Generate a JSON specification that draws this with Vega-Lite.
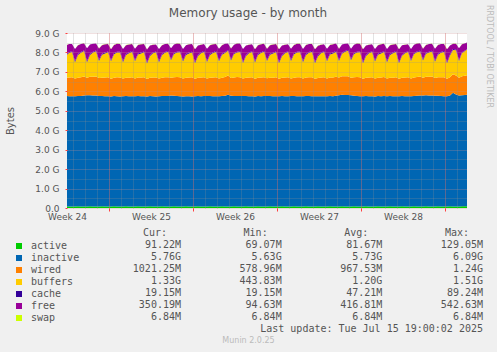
{
  "$schema": "https://vega.github.io/schema/vega-lite/v6.json",
  "width": 400,
  "height": 175,
  "autosize": {"type": "none"},
  "padding": {"left": 67, "top": 33, "right": 30, "bottom": 144},
  "background": "#F0F0F0",
  "title": {"text": "Memory usage - by month", "anchor": "middle", "frame": "group", "dx": -19, "offset": -16, "font": "DejaVu Sans", "fontSize": 12, "fontWeight": "normal", "color": "#555555"},
  "config": {"view": {"fill": "#FFFFFF", "stroke": null}, "font": "DejaVu Sans"},
  "datasets": {
    "mem": [
      {"t":"2025-06-12T12:00","active":0.085,"inactive":5.67,"wired":0.95,"buffers":1.18,"cache":0.05,"free":0.45,"swap":0.0064},
      {"t":"2025-06-12T16:00","active":0.082,"inactive":5.67,"wired":0.96,"buffers":1.26,"cache":0.04,"free":0.42,"swap":0.0064},
      {"t":"2025-06-12T22:00","active":0.078,"inactive":5.67,"wired":0.97,"buffers":1.30,"cache":0.04,"free":0.37,"swap":0.0064},
      {"t":"2025-06-13T04:00","active":0.075,"inactive":5.67,"wired":0.91,"buffers":0.84,"cache":0.06,"free":0.62,"swap":0.0064},
      {"t":"2025-06-13T10:00","active":0.085,"inactive":5.67,"wired":0.95,"buffers":1.16,"cache":0.05,"free":0.46,"swap":0.0064},
      {"t":"2025-06-13T16:00","active":0.082,"inactive":5.68,"wired":0.96,"buffers":1.26,"cache":0.04,"free":0.41,"swap":0.0064},
      {"t":"2025-06-13T22:00","active":0.078,"inactive":5.71,"wired":0.97,"buffers":1.31,"cache":0.04,"free":0.37,"swap":0.0064},
      {"t":"2025-06-14T04:00","active":0.075,"inactive":5.72,"wired":0.90,"buffers":0.80,"cache":0.06,"free":0.66,"swap":0.0064},
      {"t":"2025-06-14T10:00","active":0.085,"inactive":5.72,"wired":0.94,"buffers":1.12,"cache":0.05,"free":0.49,"swap":0.0064},
      {"t":"2025-06-14T16:00","active":0.082,"inactive":5.71,"wired":0.96,"buffers":1.25,"cache":0.04,"free":0.40,"swap":0.0064},
      {"t":"2025-06-14T22:00","active":0.078,"inactive":5.71,"wired":0.97,"buffers":1.30,"cache":0.04,"free":0.36,"swap":0.0064},
      {"t":"2025-06-15T04:00","active":0.075,"inactive":5.69,"wired":0.92,"buffers":0.88,"cache":0.06,"free":0.58,"swap":0.0064},
      {"t":"2025-06-15T10:00","active":0.085,"inactive":5.67,"wired":0.95,"buffers":1.18,"cache":0.05,"free":0.44,"swap":0.0064},
      {"t":"2025-06-15T16:00","active":0.082,"inactive":5.67,"wired":0.96,"buffers":1.24,"cache":0.04,"free":0.43,"swap":0.0064},
      {"t":"2025-06-15T22:00","active":0.078,"inactive":5.67,"wired":0.98,"buffers":1.28,"cache":0.04,"free":0.39,"swap":0.0064},
      {"t":"2025-06-16T04:00","active":0.075,"inactive":5.66,"wired":0.91,"buffers":0.90,"cache":0.06,"free":0.56,"swap":0.0064},
      {"t":"2025-06-16T10:00","active":0.085,"inactive":5.67,"wired":0.95,"buffers":1.20,"cache":0.05,"free":0.43,"swap":0.0064},
      {"t":"2025-06-16T16:00","active":0.082,"inactive":5.67,"wired":0.97,"buffers":1.27,"cache":0.04,"free":0.42,"swap":0.0064},
      {"t":"2025-06-16T22:00","active":0.078,"inactive":5.66,"wired":0.97,"buffers":1.29,"cache":0.04,"free":0.40,"swap":0.0064},
      {"t":"2025-06-17T04:00","active":0.075,"inactive":5.67,"wired":0.91,"buffers":0.84,"cache":0.06,"free":0.62,"swap":0.0064},
      {"t":"2025-06-17T10:00","active":0.085,"inactive":5.67,"wired":0.95,"buffers":1.16,"cache":0.05,"free":0.46,"swap":0.0064},
      {"t":"2025-06-17T16:00","active":0.082,"inactive":5.66,"wired":0.96,"buffers":1.26,"cache":0.04,"free":0.41,"swap":0.0064},
      {"t":"2025-06-17T22:00","active":0.078,"inactive":5.67,"wired":0.97,"buffers":1.31,"cache":0.04,"free":0.37,"swap":0.0064},
      {"t":"2025-06-18T04:00","active":0.075,"inactive":5.67,"wired":0.92,"buffers":0.88,"cache":0.06,"free":0.58,"swap":0.0064},
      {"t":"2025-06-18T10:00","active":0.085,"inactive":5.68,"wired":0.95,"buffers":1.18,"cache":0.05,"free":0.44,"swap":0.0064},
      {"t":"2025-06-18T16:00","active":0.082,"inactive":5.67,"wired":0.96,"buffers":1.24,"cache":0.04,"free":0.43,"swap":0.0064},
      {"t":"2025-06-18T22:00","active":0.078,"inactive":5.67,"wired":0.98,"buffers":1.28,"cache":0.04,"free":0.39,"swap":0.0064},
      {"t":"2025-06-19T04:00","active":0.075,"inactive":5.66,"wired":0.90,"buffers":0.80,"cache":0.06,"free":0.66,"swap":0.0064},
      {"t":"2025-06-19T10:00","active":0.085,"inactive":5.67,"wired":0.94,"buffers":1.12,"cache":0.05,"free":0.49,"swap":0.0064},
      {"t":"2025-06-19T16:00","active":0.082,"inactive":5.67,"wired":0.96,"buffers":1.25,"cache":0.04,"free":0.40,"swap":0.0064},
      {"t":"2025-06-19T22:00","active":0.078,"inactive":5.66,"wired":0.97,"buffers":1.30,"cache":0.04,"free":0.36,"swap":0.0064},
      {"t":"2025-06-20T04:00","active":0.075,"inactive":5.67,"wired":0.91,"buffers":0.84,"cache":0.06,"free":0.62,"swap":0.0064},
      {"t":"2025-06-20T10:00","active":0.085,"inactive":5.67,"wired":0.95,"buffers":1.16,"cache":0.05,"free":0.46,"swap":0.0064},
      {"t":"2025-06-20T16:00","active":0.082,"inactive":5.68,"wired":0.96,"buffers":1.26,"cache":0.04,"free":0.41,"swap":0.0064},
      {"t":"2025-06-20T22:00","active":0.078,"inactive":5.68,"wired":0.97,"buffers":1.31,"cache":0.04,"free":0.37,"swap":0.0064},
      {"t":"2025-06-21T04:00","active":0.075,"inactive":5.71,"wired":0.91,"buffers":0.90,"cache":0.06,"free":0.56,"swap":0.0064},
      {"t":"2025-06-21T10:00","active":0.085,"inactive":5.69,"wired":0.95,"buffers":1.20,"cache":0.05,"free":0.43,"swap":0.0064},
      {"t":"2025-06-21T16:00","active":0.082,"inactive":5.68,"wired":0.97,"buffers":1.27,"cache":0.04,"free":0.42,"swap":0.0064},
      {"t":"2025-06-21T22:00","active":0.078,"inactive":5.67,"wired":0.97,"buffers":1.29,"cache":0.04,"free":0.40,"swap":0.0064},
      {"t":"2025-06-22T04:00","active":0.075,"inactive":5.66,"wired":0.92,"buffers":0.88,"cache":0.06,"free":0.58,"swap":0.0064},
      {"t":"2025-06-22T10:00","active":0.085,"inactive":5.66,"wired":0.95,"buffers":1.18,"cache":0.05,"free":0.44,"swap":0.0064},
      {"t":"2025-06-22T16:00","active":0.082,"inactive":5.67,"wired":0.96,"buffers":1.24,"cache":0.04,"free":0.43,"swap":0.0064},
      {"t":"2025-06-22T22:00","active":0.078,"inactive":5.66,"wired":0.98,"buffers":1.28,"cache":0.04,"free":0.39,"swap":0.0064},
      {"t":"2025-06-23T04:00","active":0.075,"inactive":5.67,"wired":0.90,"buffers":0.80,"cache":0.06,"free":0.66,"swap":0.0064},
      {"t":"2025-06-23T10:00","active":0.085,"inactive":5.67,"wired":0.94,"buffers":1.12,"cache":0.05,"free":0.49,"swap":0.0064},
      {"t":"2025-06-23T16:00","active":0.082,"inactive":5.67,"wired":0.96,"buffers":1.25,"cache":0.04,"free":0.40,"swap":0.0064},
      {"t":"2025-06-23T22:00","active":0.078,"inactive":5.68,"wired":0.97,"buffers":1.30,"cache":0.04,"free":0.36,"swap":0.0064},
      {"t":"2025-06-24T04:00","active":0.075,"inactive":5.68,"wired":0.91,"buffers":0.84,"cache":0.06,"free":0.62,"swap":0.0064},
      {"t":"2025-06-24T10:00","active":0.085,"inactive":5.67,"wired":0.95,"buffers":1.16,"cache":0.05,"free":0.46,"swap":0.0064},
      {"t":"2025-06-24T16:00","active":0.082,"inactive":5.67,"wired":0.96,"buffers":1.26,"cache":0.04,"free":0.41,"swap":0.0064},
      {"t":"2025-06-24T22:00","active":0.078,"inactive":5.67,"wired":0.97,"buffers":1.31,"cache":0.04,"free":0.37,"swap":0.0064},
      {"t":"2025-06-25T04:00","active":0.075,"inactive":5.67,"wired":0.92,"buffers":0.88,"cache":0.06,"free":0.58,"swap":0.0064},
      {"t":"2025-06-25T10:00","active":0.085,"inactive":5.67,"wired":0.95,"buffers":1.18,"cache":0.05,"free":0.44,"swap":0.0064},
      {"t":"2025-06-25T16:00","active":0.082,"inactive":5.69,"wired":0.96,"buffers":1.24,"cache":0.04,"free":0.43,"swap":0.0064},
      {"t":"2025-06-25T22:00","active":0.078,"inactive":5.75,"wired":0.98,"buffers":1.28,"cache":0.04,"free":0.33,"swap":0.0064},
      {"t":"2025-06-26T04:00","active":0.075,"inactive":5.70,"wired":0.91,"buffers":0.90,"cache":0.06,"free":0.56,"swap":0.0064},
      {"t":"2025-06-26T10:00","active":0.085,"inactive":5.68,"wired":0.95,"buffers":1.20,"cache":0.05,"free":0.43,"swap":0.0064},
      {"t":"2025-06-26T16:00","active":0.082,"inactive":5.68,"wired":0.97,"buffers":1.27,"cache":0.04,"free":0.42,"swap":0.0064},
      {"t":"2025-06-26T22:00","active":0.078,"inactive":5.68,"wired":0.97,"buffers":1.29,"cache":0.04,"free":0.40,"swap":0.0064},
      {"t":"2025-06-27T04:00","active":0.075,"inactive":5.68,"wired":0.90,"buffers":0.80,"cache":0.06,"free":0.66,"swap":0.0064},
      {"t":"2025-06-27T10:00","active":0.085,"inactive":5.67,"wired":0.94,"buffers":1.12,"cache":0.05,"free":0.49,"swap":0.0064},
      {"t":"2025-06-27T16:00","active":0.082,"inactive":5.67,"wired":0.96,"buffers":1.25,"cache":0.04,"free":0.40,"swap":0.0064},
      {"t":"2025-06-27T22:00","active":0.078,"inactive":5.67,"wired":0.97,"buffers":1.30,"cache":0.04,"free":0.36,"swap":0.0064},
      {"t":"2025-06-28T04:00","active":0.075,"inactive":5.66,"wired":0.91,"buffers":0.84,"cache":0.06,"free":0.62,"swap":0.0064},
      {"t":"2025-06-28T10:00","active":0.085,"inactive":5.67,"wired":0.95,"buffers":1.16,"cache":0.05,"free":0.46,"swap":0.0064},
      {"t":"2025-06-28T16:00","active":0.082,"inactive":5.67,"wired":0.96,"buffers":1.26,"cache":0.04,"free":0.41,"swap":0.0064},
      {"t":"2025-06-28T22:00","active":0.078,"inactive":5.68,"wired":0.97,"buffers":1.31,"cache":0.04,"free":0.37,"swap":0.0064},
      {"t":"2025-06-29T04:00","active":0.075,"inactive":5.68,"wired":0.92,"buffers":0.88,"cache":0.06,"free":0.58,"swap":0.0064},
      {"t":"2025-06-29T10:00","active":0.085,"inactive":5.67,"wired":0.95,"buffers":1.18,"cache":0.05,"free":0.44,"swap":0.0064},
      {"t":"2025-06-29T16:00","active":0.082,"inactive":5.66,"wired":0.96,"buffers":1.24,"cache":0.04,"free":0.43,"swap":0.0064},
      {"t":"2025-06-29T22:00","active":0.078,"inactive":5.67,"wired":0.98,"buffers":1.28,"cache":0.04,"free":0.39,"swap":0.0064},
      {"t":"2025-06-30T04:00","active":0.075,"inactive":5.67,"wired":0.90,"buffers":0.80,"cache":0.06,"free":0.66,"swap":0.0064},
      {"t":"2025-06-30T10:00","active":0.085,"inactive":5.67,"wired":0.94,"buffers":1.12,"cache":0.05,"free":0.49,"swap":0.0064},
      {"t":"2025-06-30T16:00","active":0.082,"inactive":5.67,"wired":0.96,"buffers":1.25,"cache":0.04,"free":0.40,"swap":0.0064},
      {"t":"2025-06-30T22:00","active":0.078,"inactive":5.67,"wired":0.97,"buffers":1.30,"cache":0.04,"free":0.36,"swap":0.0064},
      {"t":"2025-07-01T04:00","active":0.075,"inactive":5.68,"wired":0.91,"buffers":0.90,"cache":0.06,"free":0.56,"swap":0.0064},
      {"t":"2025-07-01T10:00","active":0.085,"inactive":5.67,"wired":0.95,"buffers":1.20,"cache":0.05,"free":0.43,"swap":0.0064},
      {"t":"2025-07-01T16:00","active":0.082,"inactive":5.67,"wired":0.97,"buffers":1.27,"cache":0.04,"free":0.42,"swap":0.0064},
      {"t":"2025-07-01T22:00","active":0.078,"inactive":5.67,"wired":0.97,"buffers":1.29,"cache":0.04,"free":0.40,"swap":0.0064},
      {"t":"2025-07-02T04:00","active":0.075,"inactive":5.67,"wired":0.91,"buffers":0.84,"cache":0.06,"free":0.62,"swap":0.0064},
      {"t":"2025-07-02T10:00","active":0.085,"inactive":5.68,"wired":0.95,"buffers":1.16,"cache":0.05,"free":0.46,"swap":0.0064},
      {"t":"2025-07-02T16:00","active":0.082,"inactive":5.68,"wired":0.96,"buffers":1.26,"cache":0.04,"free":0.41,"swap":0.0064},
      {"t":"2025-07-02T22:00","active":0.078,"inactive":5.67,"wired":0.97,"buffers":1.31,"cache":0.04,"free":0.37,"swap":0.0064},
      {"t":"2025-07-03T04:00","active":0.075,"inactive":5.67,"wired":0.90,"buffers":0.80,"cache":0.06,"free":0.66,"swap":0.0064},
      {"t":"2025-07-03T10:00","active":0.085,"inactive":5.66,"wired":0.94,"buffers":1.12,"cache":0.05,"free":0.49,"swap":0.0064},
      {"t":"2025-07-03T16:00","active":0.082,"inactive":5.67,"wired":0.96,"buffers":1.25,"cache":0.04,"free":0.40,"swap":0.0064},
      {"t":"2025-07-03T22:00","active":0.078,"inactive":5.67,"wired":0.97,"buffers":1.30,"cache":0.04,"free":0.36,"swap":0.0064},
      {"t":"2025-07-04T04:00","active":0.075,"inactive":5.67,"wired":0.92,"buffers":0.88,"cache":0.06,"free":0.58,"swap":0.0064},
      {"t":"2025-07-04T10:00","active":0.085,"inactive":5.68,"wired":0.95,"buffers":1.18,"cache":0.05,"free":0.44,"swap":0.0064},
      {"t":"2025-07-04T16:00","active":0.082,"inactive":5.67,"wired":0.96,"buffers":1.24,"cache":0.04,"free":0.43,"swap":0.0064},
      {"t":"2025-07-04T22:00","active":0.078,"inactive":5.69,"wired":0.98,"buffers":1.28,"cache":0.04,"free":0.39,"swap":0.0064},
      {"t":"2025-07-05T04:00","active":0.075,"inactive":5.73,"wired":0.91,"buffers":0.84,"cache":0.06,"free":0.58,"swap":0.0064},
      {"t":"2025-07-05T10:00","active":0.085,"inactive":5.74,"wired":0.95,"buffers":1.16,"cache":0.05,"free":0.42,"swap":0.0064},
      {"t":"2025-07-05T16:00","active":0.082,"inactive":5.73,"wired":0.96,"buffers":1.26,"cache":0.04,"free":0.37,"swap":0.0064},
      {"t":"2025-07-05T22:00","active":0.078,"inactive":5.73,"wired":0.97,"buffers":1.31,"cache":0.04,"free":0.33,"swap":0.0064},
      {"t":"2025-07-06T04:00","active":0.075,"inactive":5.72,"wired":0.91,"buffers":0.90,"cache":0.06,"free":0.52,"swap":0.0064},
      {"t":"2025-07-06T10:00","active":0.085,"inactive":5.69,"wired":0.95,"buffers":1.20,"cache":0.05,"free":0.42,"swap":0.0064},
      {"t":"2025-07-06T16:00","active":0.082,"inactive":5.68,"wired":0.97,"buffers":1.27,"cache":0.04,"free":0.42,"swap":0.0064},
      {"t":"2025-07-06T22:00","active":0.078,"inactive":5.67,"wired":0.97,"buffers":1.29,"cache":0.04,"free":0.40,"swap":0.0064},
      {"t":"2025-07-07T04:00","active":0.075,"inactive":5.67,"wired":0.90,"buffers":0.80,"cache":0.06,"free":0.66,"swap":0.0064},
      {"t":"2025-07-07T10:00","active":0.085,"inactive":5.67,"wired":0.94,"buffers":1.12,"cache":0.05,"free":0.49,"swap":0.0064},
      {"t":"2025-07-07T16:00","active":0.082,"inactive":5.67,"wired":0.96,"buffers":1.25,"cache":0.04,"free":0.40,"swap":0.0064},
      {"t":"2025-07-07T22:00","active":0.078,"inactive":5.67,"wired":0.97,"buffers":1.30,"cache":0.04,"free":0.36,"swap":0.0064},
      {"t":"2025-07-08T04:00","active":0.075,"inactive":5.66,"wired":0.92,"buffers":0.88,"cache":0.06,"free":0.58,"swap":0.0064},
      {"t":"2025-07-08T10:00","active":0.085,"inactive":5.67,"wired":0.95,"buffers":1.18,"cache":0.05,"free":0.44,"swap":0.0064},
      {"t":"2025-07-08T16:00","active":0.082,"inactive":5.67,"wired":0.96,"buffers":1.24,"cache":0.04,"free":0.43,"swap":0.0064},
      {"t":"2025-07-08T22:00","active":0.078,"inactive":5.68,"wired":0.98,"buffers":1.28,"cache":0.04,"free":0.39,"swap":0.0064},
      {"t":"2025-07-09T04:00","active":0.075,"inactive":5.67,"wired":0.91,"buffers":0.84,"cache":0.06,"free":0.62,"swap":0.0064},
      {"t":"2025-07-09T10:00","active":0.085,"inactive":5.67,"wired":0.95,"buffers":1.16,"cache":0.05,"free":0.46,"swap":0.0064},
      {"t":"2025-07-09T16:00","active":0.082,"inactive":5.66,"wired":0.96,"buffers":1.26,"cache":0.04,"free":0.41,"swap":0.0064},
      {"t":"2025-07-09T22:00","active":0.078,"inactive":5.67,"wired":0.97,"buffers":1.31,"cache":0.04,"free":0.37,"swap":0.0064},
      {"t":"2025-07-10T04:00","active":0.075,"inactive":5.67,"wired":0.90,"buffers":0.80,"cache":0.06,"free":0.66,"swap":0.0064},
      {"t":"2025-07-10T10:00","active":0.085,"inactive":5.68,"wired":0.94,"buffers":1.12,"cache":0.05,"free":0.49,"swap":0.0064},
      {"t":"2025-07-10T16:00","active":0.082,"inactive":5.67,"wired":0.96,"buffers":1.25,"cache":0.04,"free":0.40,"swap":0.0064},
      {"t":"2025-07-10T22:00","active":0.078,"inactive":5.67,"wired":0.97,"buffers":1.30,"cache":0.04,"free":0.36,"swap":0.0064},
      {"t":"2025-07-11T04:00","active":0.075,"inactive":5.67,"wired":0.91,"buffers":0.90,"cache":0.06,"free":0.56,"swap":0.0064},
      {"t":"2025-07-11T10:00","active":0.085,"inactive":5.68,"wired":0.95,"buffers":1.20,"cache":0.05,"free":0.43,"swap":0.0064},
      {"t":"2025-07-11T16:00","active":0.082,"inactive":5.69,"wired":0.97,"buffers":1.27,"cache":0.04,"free":0.41,"swap":0.0064},
      {"t":"2025-07-11T22:00","active":0.078,"inactive":5.71,"wired":0.97,"buffers":1.29,"cache":0.04,"free":0.38,"swap":0.0064},
      {"t":"2025-07-12T04:00","active":0.075,"inactive":5.71,"wired":0.92,"buffers":0.88,"cache":0.06,"free":0.55,"swap":0.0064},
      {"t":"2025-07-12T10:00","active":0.085,"inactive":5.72,"wired":0.95,"buffers":1.18,"cache":0.05,"free":0.40,"swap":0.0064},
      {"t":"2025-07-12T16:00","active":0.082,"inactive":5.71,"wired":0.96,"buffers":1.24,"cache":0.04,"free":0.40,"swap":0.0064},
      {"t":"2025-07-12T22:00","active":0.078,"inactive":5.71,"wired":0.98,"buffers":1.28,"cache":0.04,"free":0.36,"swap":0.0064},
      {"t":"2025-07-13T04:00","active":0.075,"inactive":5.70,"wired":0.91,"buffers":0.84,"cache":0.06,"free":0.60,"swap":0.0064},
      {"t":"2025-07-13T10:00","active":0.085,"inactive":5.69,"wired":0.95,"buffers":1.16,"cache":0.05,"free":0.45,"swap":0.0064},
      {"t":"2025-07-13T16:00","active":0.082,"inactive":5.68,"wired":0.96,"buffers":1.26,"cache":0.04,"free":0.41,"swap":0.0064},
      {"t":"2025-07-13T22:00","active":0.078,"inactive":5.67,"wired":0.97,"buffers":1.31,"cache":0.04,"free":0.37,"swap":0.0064},
      {"t":"2025-07-14T04:00","active":0.075,"inactive":5.67,"wired":0.90,"buffers":0.80,"cache":0.06,"free":0.66,"swap":0.0064},
      {"t":"2025-07-14T10:00","active":0.085,"inactive":5.70,"wired":0.94,"buffers":1.12,"cache":0.05,"free":0.46,"swap":0.0064},
      {"t":"2025-07-14T16:00","active":0.082,"inactive":5.84,"wired":0.96,"buffers":1.25,"cache":0.04,"free":0.28,"swap":0.0064},
      {"t":"2025-07-14T22:00","active":0.078,"inactive":5.76,"wired":0.97,"buffers":1.30,"cache":0.04,"free":0.30,"swap":0.0064},
      {"t":"2025-07-15T04:00","active":0.075,"inactive":5.71,"wired":0.92,"buffers":0.86,"cache":0.05,"free":0.60,"swap":0.0064},
      {"t":"2025-07-15T10:00","active":0.085,"inactive":5.72,"wired":0.97,"buffers":1.20,"cache":0.03,"free":0.42,"swap":0.0064},
      {"t":"2025-07-15T16:00","active":0.088,"inactive":5.72,"wired":0.99,"buffers":1.28,"cache":0.02,"free":0.37,"swap":0.0064},
      {"t":"2025-07-15T20:00","active":0.091,"inactive":5.73,"wired":1.00,"buffers":1.33,"cache":0.019,"free":0.34,"swap":0.0064}
    ],
    "order": [
      {"series": "active", "rank": 1},
      {"series": "inactive", "rank": 2},
      {"series": "wired", "rank": 3},
      {"series": "buffers", "rank": 4},
      {"series": "cache", "rank": 5},
      {"series": "free", "rank": 6},
      {"series": "swap", "rank": 7}
    ],
    "stats": [
      {"row":"header","stat":"Cur","text":"Cur:"},
      {"row":"header","stat":"Min","text":"Min:"},
      {"row":"header","stat":"Avg","text":"Avg:"},
      {"row":"header","stat":"Max","text":"Max:"},
      {"row":"active","stat":"Cur","text":"91.22M"},
      {"row":"active","stat":"Min","text":"69.07M"},
      {"row":"active","stat":"Avg","text":"81.67M"},
      {"row":"active","stat":"Max","text":"129.05M"},
      {"row":"inactive","stat":"Cur","text":"5.76G"},
      {"row":"inactive","stat":"Min","text":"5.63G"},
      {"row":"inactive","stat":"Avg","text":"5.73G"},
      {"row":"inactive","stat":"Max","text":"6.09G"},
      {"row":"wired","stat":"Cur","text":"1021.25M"},
      {"row":"wired","stat":"Min","text":"578.96M"},
      {"row":"wired","stat":"Avg","text":"967.53M"},
      {"row":"wired","stat":"Max","text":"1.24G"},
      {"row":"buffers","stat":"Cur","text":"1.33G"},
      {"row":"buffers","stat":"Min","text":"443.83M"},
      {"row":"buffers","stat":"Avg","text":"1.20G"},
      {"row":"buffers","stat":"Max","text":"1.51G"},
      {"row":"cache","stat":"Cur","text":"19.15M"},
      {"row":"cache","stat":"Min","text":"19.15M"},
      {"row":"cache","stat":"Avg","text":"47.21M"},
      {"row":"cache","stat":"Max","text":"89.24M"},
      {"row":"free","stat":"Cur","text":"350.19M"},
      {"row":"free","stat":"Min","text":"94.63M"},
      {"row":"free","stat":"Avg","text":"416.81M"},
      {"row":"free","stat":"Max","text":"542.63M"},
      {"row":"swap","stat":"Cur","text":"6.84M"},
      {"row":"swap","stat":"Min","text":"6.84M"},
      {"row":"swap","stat":"Avg","text":"6.84M"},
      {"row":"swap","stat":"Max","text":"6.84M"},
      {"row":"update","stat":"Max","text":"Last update: Tue Jul 15 19:00:02 2025"}
    ]
  },
  "layer": [
    {
      "data": {"name": "mem"},
      "transform": [
        {"fold": ["active", "inactive", "wired", "buffers", "cache", "free", "swap"], "as": ["series", "gib"]},
        {"lookup": "series", "from": {"data": {"name": "order"}, "key": "series", "fields": ["rank"]}}
      ],
      "mark": {"type": "area", "interpolate": "linear", "opacity": 1},
      "encoding": {
        "x": {"field": "t", "type": "temporal",
              "scale": {"domain": [{"year": 2025, "month": 6, "date": 12, "hours": 12}, {"year": 2025, "month": 7, "date": 15, "hours": 20}]},
              "axis": {"orient": "bottom", "tickCount": {"interval": "day", "step": 1}, "grid": true, "gridColor": "#909090", "gridOpacity": 0.5, "gridDash": [1, 1], "labels": false, "ticks": false, "domain": false, "title": null, "zindex": 1}},
        "y": {"field": "gib", "type": "quantitative", "stack": "zero",
              "scale": {"domain": [0, 9], "nice": false, "zero": true},
              "axis": {"orient": "left", "values": [0.5, 1.5, 2.5, 3.5, 4.5, 5.5, 6.5, 7.5, 8.5], "grid": true, "gridColor": "#909090", "gridOpacity": 0.5, "gridDash": [1, 1], "labels": false, "ticks": false, "domain": false, "title": null, "zindex": 1}},
        "order": {"field": "rank", "type": "quantitative", "sort": "ascending"},
        "color": {"field": "series", "type": "nominal",
                  "sort": ["active", "inactive", "wired", "buffers", "cache", "free", "swap"],
                  "scale": {"domain": ["active", "inactive", "wired", "buffers", "cache", "free", "swap"],
                            "range": ["#00CC00", "#0066B3", "#FF8000", "#FFCC00", "#330099", "#990099", "#CCFF00"]},
                  "legend": {"orient": "none", "legendX": -53, "legendY": 208, "title": null, "padding": 0,
                             "symbolType": "square", "symbolSize": 36, "symbolStrokeWidth": 0, "symbolOpacity": 1,
                             "labelFont": "DejaVu Sans Mono", "labelFontSize": 10, "labelColor": "#555555",
                             "labelOffset": 7, "rowPadding": 2, "direction": "vertical"}}
      }
    },
    {
      "data": {"values": []},
      "mark": {"type": "rule"},
      "encoding": {
        "x": {"field": "t", "type": "temporal",
              "scale": {"domain": [{"year": 2025, "month": 6, "date": 12, "hours": 12}, {"year": 2025, "month": 7, "date": 15, "hours": 20}]},
              "axis": {"orient": "bottom", "values": [{"year": 2025, "month": 6, "date": 16}, {"year": 2025, "month": 6, "date": 23}, {"year": 2025, "month": 6, "date": 30}, {"year": 2025, "month": 7, "date": 7}, {"year": 2025, "month": 7, "date": 14}],
                       "grid": true, "gridColor": "#FF5050", "gridOpacity": 0.5, "gridDash": [1, 1], "labels": false, "ticks": true, "tickColor": "#FF4040", "tickSize": 3, "domain": false, "title": null, "zindex": 1}},
        "y": {"field": "v", "type": "quantitative",
              "scale": {"domain": [0, 9], "nice": false, "zero": true},
              "axis": {"orient": "left", "values": [0, 1, 2, 3, 4, 5, 6, 7, 8, 9], "grid": true, "gridColor": "#C89090", "gridOpacity": 0.55, "gridDash": [1, 1],
                       "labelExpr": "datum.value == 0 ? '0.0' : format(datum.value, '.1f') + ' G'",
                       "labelFont": "DejaVu Sans", "labelFontSize": 9, "labelColor": "#555555", "labelPadding": 6,
                       "ticks": true, "tickColor": "#FF4040", "tickSize": 2, "domain": false,
                       "title": "Bytes", "titleFont": "DejaVu Sans", "titleFontSize": 10, "titleFontWeight": "normal", "titleColor": "#555555",
                       "titleX": -57, "titleY": 87.5, "titleAngle": 270, "titleAlign": "center", "titleBaseline": "middle", "zindex": 1}}
      }
    },
    {
      "data": {"values": []},
      "mark": {"type": "rule"},
      "encoding": {
        "x": {"field": "t", "type": "temporal",
              "scale": {"domain": [{"year": 2025, "month": 6, "date": 12, "hours": 12}, {"year": 2025, "month": 7, "date": 15, "hours": 20}]},
              "axis": {"orient": "bottom", "values": [{"year": 2025, "month": 6, "date": 12, "hours": 12}, {"year": 2025, "month": 6, "date": 19, "hours": 12}, {"year": 2025, "month": 6, "date": 26, "hours": 12}, {"year": 2025, "month": 7, "date": 3, "hours": 12}, {"year": 2025, "month": 7, "date": 10, "hours": 12}],
                       "labelExpr": "'Week ' + timeFormat(datum.value, '%V')",
                       "grid": false, "ticks": false, "domain": false, "title": null, "labelFlush": false, "labelOverlap": false, "labelBound": false,
                       "labelFont": "DejaVu Sans", "labelFontSize": 9, "labelColor": "#555555", "labelPadding": 4}},
        "y": {"field": "v", "type": "quantitative",
              "scale": {"domain": [0, 9], "nice": false, "zero": true},
              "axis": {"orient": "right", "grid": false, "labels": false, "ticks": false, "domain": false,
                       "title": "RRDTOOL / TOBI OETIKER", "titleFont": "DejaVu Sans", "titleFontSize": 8, "titleFontWeight": "normal", "titleColor": "#BBBBBB",
                       "titleLimit": 300, "titleAngle": 90, "titleX": 21, "titleY": 23, "titleAlign": "center", "titleBaseline": "middle"}}
      }
    },
    {
      "data": {"name": "stats"},
      "transform": [{"filter": "datum.row != 'header'"}],
      "mark": {"type": "text", "align": "right", "baseline": "middle", "font": "DejaVu Sans Mono", "fontSize": 10, "color": "#555555"},
      "encoding": {
        "x": {"field": "stat", "type": "nominal", "scale": {"type": "point", "domain": ["Cur", "Min", "Avg", "Max"], "range": [114, 416], "padding": 0}, "axis": null},
        "y": {"field": "row", "type": "nominal", "scale": {"type": "point", "domain": ["header", "active", "inactive", "wired", "buffers", "cache", "free", "swap", "update", "munin"], "range": [200, 308], "padding": 0}, "axis": null},
        "text": {"field": "text"}
      }
    },
    {
      "data": {"name": "stats"},
      "transform": [{"filter": "datum.row == 'header'"}],
      "mark": {"type": "text", "align": "right", "baseline": "middle", "font": "DejaVu Sans Mono", "fontSize": 10, "color": "#555555", "dx": -14},
      "encoding": {
        "x": {"field": "stat", "type": "nominal", "scale": {"type": "point", "domain": ["Cur", "Min", "Avg", "Max"], "range": [114, 416], "padding": 0}, "axis": null},
        "y": {"field": "row", "type": "nominal", "scale": {"type": "point", "domain": ["header", "active", "inactive", "wired", "buffers", "cache", "free", "swap", "update", "munin"], "range": [200, 308], "padding": 0}, "axis": null},
        "text": {"field": "text"}
      }
    },
    {
      "data": {"values": [{"row": "munin", "text": "Munin 2.0.25"}]},
      "mark": {"type": "text", "align": "center", "baseline": "middle", "font": "DejaVu Sans", "fontSize": 8, "color": "#BBBBBB"},
      "encoding": {
        "x": {"value": 181.5},
        "y": {"field": "row", "type": "nominal", "scale": {"type": "point", "domain": ["header", "active", "inactive", "wired", "buffers", "cache", "free", "swap", "update", "munin"], "range": [200, 308], "padding": 0}, "axis": null},
        "text": {"field": "text"}
      }
    }
  ],
  "resolve": {"scale": {"x": "independent", "y": "independent"}, "axis": {"x": "independent", "y": "independent"}}
}
